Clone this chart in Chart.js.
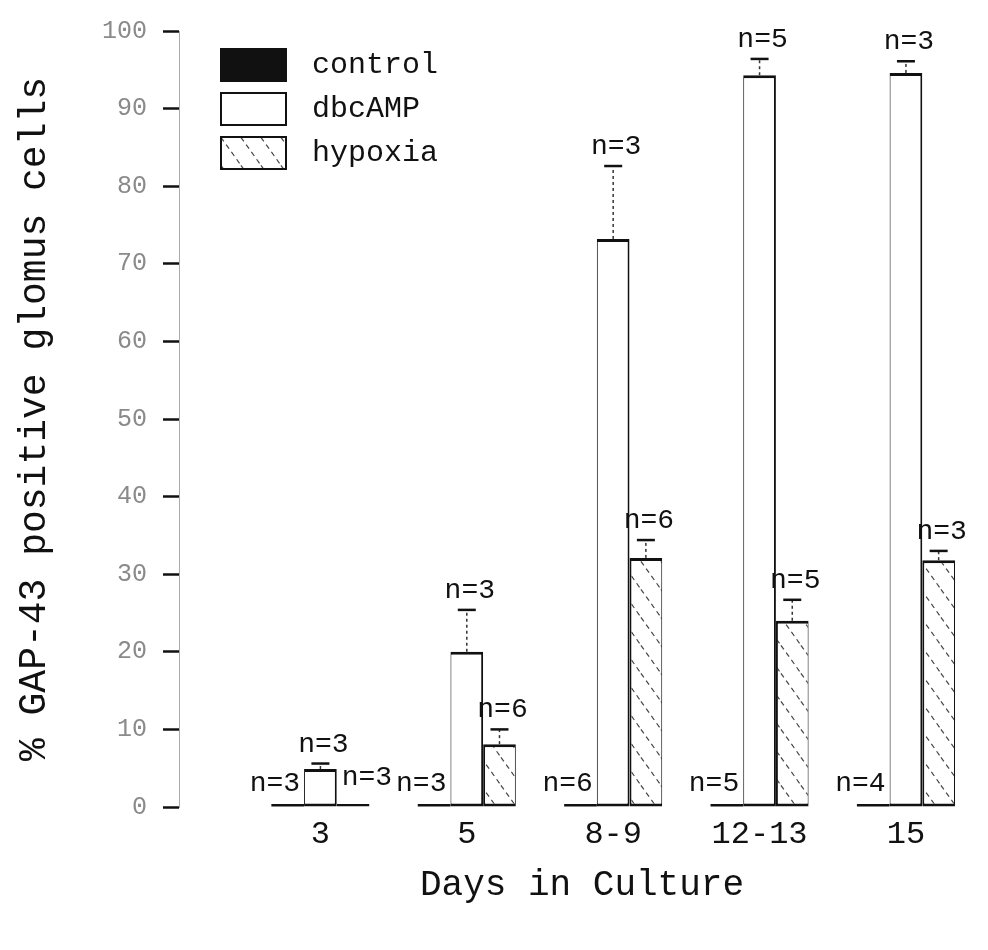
<!DOCTYPE html>
<html>
<head>
<meta charset="utf-8">
<title>GAP-43 positive glomus cells</title>
<script src="https://cdn.jsdelivr.net/npm/chart.js@4.4.1/dist/chart.umd.min.js"></script>
<style>
  html, body { margin: 0; background: #fff; }
  #wrap { position: relative; width: 988px; height: 950px; }
  #legend { position: absolute; left: 220px; top: 43px; font: 30px 'Liberation Mono', 'DejaVu Sans Mono', monospace; color: #111; }
  .row { display: flex; align-items: center; height: 44px; }
  .row canvas { margin-right: 25px; }
</style>
</head>
<body>
<div id="wrap">
  <canvas id="chart" width="988" height="950"></canvas>
  <div id="legend"></div>
</div>
<script>
// ---------- data ----------
const days = ['3', '5', '8-9', '12-13', '15'];

const controlPct = [0, 0, 0, 0.4, 0.4];
const dbcampPct  = [4.9, 20.0, 73.2, 94.3, 94.6];
const hypoxiaPct = [0, 8.1, 32.1, 24.0, 31.8];

// upper error (SEM)
const controlErr = [0, 0, 0, 0, 0];
const dbcampErr  = [0.7, 5.4, 9.4, 2.1, 1.5];
const hypoxiaErr = [0, 1.9, 2.3, 2.7, 1.2];

// number of cultures per bar
const controlN = [3, 3, 6, 5, 4];
const dbcampN  = [3, 3, 3, 5, 3];
const hypoxiaN = [3, 6, 6, 5, 3];

const MONO = "'Liberation Mono', 'DejaVu Sans Mono', monospace";
const INK = '#111';

// ---------- hatch fill ----------
function hatchPattern(ctx) {
    const tile = document.createElement('canvas');
    tile.width = 20; tile.height = 28;
    const c = tile.getContext('2d');
    c.fillStyle = '#fff';
    c.fillRect(0, 0, 20, 28);
    c.strokeStyle = '#444';
    c.lineWidth = 1.2;
    c.setLineDash([5, 4]);
    c.beginPath();
    c.moveTo(-20, -28);
    c.lineTo(40, 56);
    c.stroke();
    return ctx.createPattern(tile, 'repeat');
}

const toPoints = arr => arr.map((v, i) => ({ x: i + 1, y: v }));

const canvas = document.getElementById('chart');
const ctx = canvas.getContext('2d');

const datasets = [
    {
        label: 'control', data: toPoints(controlPct), errors: controlErr, counts: controlN,
        backgroundColor: INK, borderWidth: 0,
    },
    {
        label: 'dbcAMP', data: toPoints(dbcampPct), errors: dbcampErr, counts: dbcampN,
        backgroundColor: '#fff', borderColor: INK, borderSkipped: false,
        borderWidth: { top: 3, bottom: 3, left: 1, right: 2 },
    },
    {
        label: 'hypoxia', data: toPoints(hypoxiaPct), errors: hypoxiaErr, counts: hypoxiaN,
        backgroundColor: hatchPattern(ctx), borderColor: INK, borderSkipped: false,
        borderWidth: { top: 3, bottom: 3, left: 2, right: 1 },
    },
];

// ---------- error bars + n labels ----------
const errorBarsAndCounts = {
    id: 'errorBarsAndCounts',
    afterDatasetsDraw(chart) {
        const { ctx } = chart;
        const yScale = chart.scales.y;
        const base = yScale.getPixelForValue(0);
        ctx.save();
        ctx.font = `28px ${MONO}`;
        ctx.fillStyle = INK;
        ctx.textBaseline = 'alphabetic';
        chart.data.datasets.forEach((ds, di) => {
            chart.getDatasetMeta(di).data.forEach((bar, i) => {
                const val = ds.data[i].y;
                const label = 'n=' + ds.counts[i];
                const half = bar.width / 2;
                if (val < 1) {
                    // flat bars: count goes beside the bar
                    if (di === 0) {
                        ctx.textAlign = 'right';
                        ctx.fillText(label, bar.x + half - 4, base - 16);
                    } else {
                        ctx.textAlign = 'left';
                        ctx.fillText(label, bar.x - half + 5, base - 22);
                    }
                    return;
                }
                const top = yScale.getPixelForValue(val);
                const cap = yScale.getPixelForValue(val + ds.errors[i]);
                ctx.strokeStyle = '#333';
                ctx.lineWidth = 1.5;
                ctx.setLineDash([3, 3]);
                ctx.beginPath();
                ctx.moveTo(bar.x, top);
                ctx.lineTo(bar.x, cap);
                ctx.stroke();
                ctx.setLineDash([]);
                ctx.strokeStyle = INK;
                ctx.lineWidth = 2.5;
                ctx.beginPath();
                ctx.moveTo(bar.x - 9, cap);
                ctx.lineTo(bar.x + 9, cap);
                ctx.stroke();
                ctx.textAlign = 'center';
                ctx.fillText(label, bar.x + 3, cap - 12);
            });
        });
        ctx.restore();
    }
};

new Chart(ctx, {
    type: 'bar',
    data: { datasets },
    options: {
        responsive: false,
        animation: false,
        events: [],
        minBarLength: 3,
        categoryPercentage: 0.67,
        barPercentage: 1,
        layout: { padding: { left: 4, right: 3, top: 28, bottom: 0 } },
        plugins: { legend: { display: false }, tooltip: { enabled: false } },
        scales: {
            x: {
                type: 'linear',
                min: 0.034,
                max: 5.54,
                offset: false,
                grid: { display: false, drawTicks: false, offset: false },
                border: { display: false },
                afterBuildTicks: s => { s.ticks = days.map((_, i) => ({ value: i + 1 })); },
                afterFit: s => { s.height = 143; },
                ticks: {
                    padding: 8,
                    color: INK,
                    font: { family: MONO, size: 32 },
                    callback: v => days[v - 1] ?? '',
                },
                title: {
                    display: true,
                    text: 'Days in Culture',
                    color: INK,
                    font: { family: MONO, size: 36 },
                    padding: { top: 0, bottom: 43 },
                },
            },
            y: {
                min: 0,
                max: 100,
                afterFit: s => { s.width = 175; },
                ticks: {
                    stepSize: 10,
                    padding: 16,
                    color: '#8a8a8a',
                    font: { family: MONO, size: 25 },
                },
                grid: { drawOnChartArea: false, tickLength: 16, tickColor: INK, tickWidth: 2.5 },
                border: { display: true, color: '#aaa', width: 1, dash: [2, 5] },
                title: {
                    display: true,
                    text: '% GAP-43 positive glomus cells',
                    color: INK,
                    font: { family: MONO, size: 38 },
                    padding: { top: 8, bottom: 0 },
                },
            },
        },
    },
    plugins: [errorBarsAndCounts],
});

// ---------- legend ----------
const legendEl = document.getElementById('legend');
datasets.forEach(ds => {
    const row = document.createElement('div');
    row.className = 'row';
    const sw = document.createElement('canvas');
    sw.width = 67; sw.height = 34;
    const c = sw.getContext('2d');
    c.fillStyle = ds.label === 'hypoxia' ? hatchPattern(c) : ds.backgroundColor;
    c.fillRect(0, 0, 67, 34);
    if (ds.label !== 'control') {
        c.strokeStyle = INK;
        c.lineWidth = 2;
        c.strokeRect(1, 1, 65, 32);
    }
    const txt = document.createElement('span');
    txt.textContent = ds.label;
    row.appendChild(sw);
    row.appendChild(txt);
    legendEl.appendChild(row);
});
</script>
</body>
</html>
